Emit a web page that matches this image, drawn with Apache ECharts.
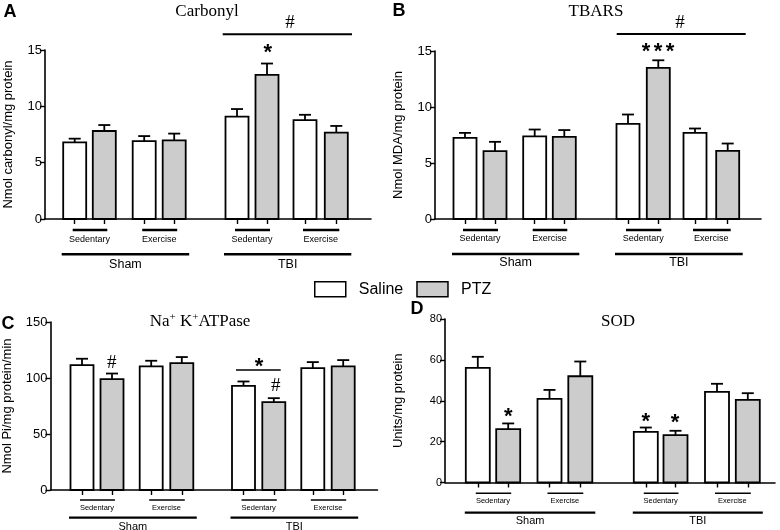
<!DOCTYPE html>
<html><head><meta charset="utf-8">
<script src="https://cdn.jsdelivr.net/npm/echarts@6/dist/echarts.min.js"></script>
<style>html,body{margin:0;padding:0;background:#fff}#c{width:780px;height:530px}</style>
</head><body><div id="c"></div>
<script>
// ---------------- DATA ----------------
const conditions = ['Sham Sedentary', 'Sham Exercise', 'TBI Sedentary', 'TBI Exercise'];
const groupLabels = ['Sham', 'TBI'];
const subgroupLabels = ['Sedentary', 'Exercise'];
const treatments = ['Saline', 'PTZ'];

const carbonylSaline    = [6.8, 6.92, 9.08, 8.78];
const carbonylSalineErr = [0.33, 0.44, 0.68, 0.47];
const carbonylPTZ       = [7.81, 6.98, 12.8, 7.66];
const carbonylPTZErr    = [0.53, 0.6, 1.0, 0.6];
const carbonylTicks     = [0, 5, 10, 15];

const tbarsSaline    = [7.25, 7.37, 8.5, 7.69];
const tbarsSalineErr = [0.44, 0.62, 0.83, 0.39];
const tbarsPTZ       = [6.06, 7.34, 13.49, 6.09];
const tbarsPTZErr    = [0.83, 0.6, 0.68, 0.65];
const tbarsTicks     = [0, 5, 10, 15];

const atpaseSaline    = [111.5, 110.3, 93.0, 108.8];
const atpaseSalineErr = [5.7, 5.1, 3.9, 5.4];
const atpasePTZ       = [99.0, 113.3, 78.4, 110.3];
const atpasePTZErr    = [5.0, 5.4, 3.6, 5.7];
const atpaseTicks     = [0, 50, 100, 150];

const sodSaline    = [56.1, 40.9, 24.8, 44.3];
const sodSalineErr = [5.4, 4.4, 2.1, 4.0];
const sodPTZ       = [26.1, 52.0, 23.2, 40.4];
const sodPTZErr    = [2.8, 7.2, 2.1, 3.3];
const sodTicks     = [0, 20, 40, 60, 80];

// ---------------- LAYOUT ----------------
const FONT = "'Liberation Sans', Arial, Helvetica, sans-serif";
const SERIF = "'Liberation Serif', 'Times New Roman', serif";
const FILL = { Saline: '#ffffff', PTZ: '#cccccc' };

const panels = [
  { letter: 'A', letterPos: [10, 12], title: 'Carbonyl', titlePos: [207, 12],
    yName: 'Nmol carbonyl/mg protein', nameGap: 30, tickFont: 13,
    saline: carbonylSaline, salineErr: carbonylSalineErr, ptz: carbonylPTZ, ptzErr: carbonylPTZErr, ticks: carbonylTicks,
    grid: { left: 45, top: 50, width: 326, height: 169 },
    pos: [29.7, 59.3, 99.2, 129.2, 192, 222, 260, 291.3], barW: 23,
    lab: { subLine: 11, subW: 2.5, subText: 21, subFont: 9, grpLine: 35.3, grpW: 2.5, grpText: 46, grpFont: 12.5 },
    notes: [
      { t: 'line', x1: 177.7, x2: 307, y: 16.39, w: 2 },
      { t: 'hash', x: 245, y: 17.39 },
      { t: 'star', x: 222.7, y: 15.17 }
    ] },
  { letter: 'B', letterPos: [399, 11], title: 'TBARS', titlePos: [596, 12],
    yName: 'Nmol MDA/mg protein', nameGap: 30, tickFont: 13,
    saline: tbarsSaline, salineErr: tbarsSalineErr, ptz: tbarsPTZ, ptzErr: tbarsPTZErr, ticks: tbarsTicks,
    grid: { left: 435, top: 51, width: 326, height: 168 },
    pos: [30, 60, 99.7, 129.3, 193, 223.3, 260, 292.7], barW: 23,
    lab: { subLine: 11, subW: 2.5, subText: 20, subFont: 9, grpLine: 35, grpW: 2.5, grpText: 44, grpFont: 12.5 },
    notes: [
      { t: 'line', x1: 181.7, x2: 310.7, y: 16.52, w: 2 },
      { t: 'hash', x: 245, y: 17.5 },
      { t: 'star', x: 211, y: 15.38 },
      { t: 'star', x: 223, y: 15.38 },
      { t: 'star', x: 235, y: 15.38 }
    ] },
  { letter: 'C', letterPos: [8, 324], title: 'Na{s|+} K{s|+}ATPase', titlePos: [200, 322],
    yName: 'Nmol Pi/mg protein/min', nameGap: 37, tickFont: 13,
    saline: atpaseSaline, salineErr: atpaseSalineErr, ptz: atpasePTZ, ptzErr: atpasePTZErr, ticks: atpaseTicks,
    grid: { left: 50.5, top: 322, width: 327, height: 168 },
    pos: [31.5, 61.5, 100.7, 131.3, 193, 223.3, 262.3, 292.7], barW: 23,
    lab: { subLine: 10, subW: 1.6, subText: 17.7, subFont: 7.5, grpLine: 27.7, grpW: 2.2, grpText: 36.5, grpFont: 11 },
    notes: [
      { t: 'hash', x: 61.2, y: 113.1 },
      { t: 'star', x: 208.5, y: 114.6 },
      { t: 'line', x1: 185.5, x2: 230.2, y: 107.1, w: 1.5 },
      { t: 'hash', x: 225.2, y: 92.9 }
    ] },
  { letter: 'D', letterPos: [417, 309], title: 'SOD', titlePos: [618, 322],
    yName: 'Units/mg protein', nameGap: 40, tickFont: 11,
    saline: sodSaline, salineErr: sodSalineErr, ptz: sodPTZ, ptzErr: sodPTZErr, ticks: sodTicks,
    grid: { left: 445, top: 319, width: 330, height: 163.5 },
    pos: [32.8, 63.2, 104.5, 135.3, 200.8, 230.5, 272, 302.8], barW: 24,
    lab: { subLine: 10.8, subW: 1.6, subText: 18.5, subFont: 7.5, grpLine: 30.2, grpW: 2.2, grpText: 38.5, grpFont: 11 },
    notes: [
      { t: 'star', x: 63.3, y: 34.6 },
      { t: 'star', x: 200.7, y: 32.2 },
      { t: 'star', x: 230, y: 31.4 }
    ] }
];

function barRenderer(fill, barW) {
  return function (params, api) {
    const x = api.value(0), v = api.value(1), e = api.value(2);
    const base = api.coord([x, 0]);
    const top = api.coord([x, v]);
    const etop = api.coord([x, v + e]);
    const line = { stroke: '#000', lineWidth: 1.8 };
    return { type: 'group', children: [
      { type: 'line', shape: { x1: top[0], y1: top[1], x2: etop[0], y2: etop[1] }, style: line },
      { type: 'line', shape: { x1: etop[0] - 6, y1: etop[1], x2: etop[0] + 6, y2: etop[1] }, style: line },
      { type: 'rect', shape: { x: base[0] - barW / 2, y: top[1], width: barW, height: base[1] - top[1] },
        style: { fill: fill, stroke: '#000', lineWidth: 1.8 } }
    ] };
  };
}

function labelRenderer(p) {
  return function (params, api) {
    const base = api.coord([0, 0])[1];
    const L = p.lab;
    const ch = [];
    for (let g = 0; g < 2; g++) {
      for (let s = 0; s < 2; s++) {
        const i = g * 4 + s * 2;
        const xl = api.coord([p.pos[i], 0])[0], xr = api.coord([p.pos[i + 1], 0])[0];
        ch.push({ type: 'line', shape: { x1: xl - 2, y1: base + L.subLine, x2: xr + 3, y2: base + L.subLine },
          style: { stroke: '#000', lineWidth: L.subW } });
        ch.push({ type: 'text', x: (xl + xr) / 2, y: base + L.subText,
          style: { text: subgroupLabels[s], fontSize: L.subFont, fontFamily: FONT, fill: '#000', align: 'center', verticalAlign: 'middle' } });
      }
      const gl = api.coord([p.pos[g * 4], 0])[0] - 13, gr = api.coord([p.pos[g * 4 + 3], 0])[0] + 15;
      ch.push({ type: 'line', shape: { x1: gl, y1: base + L.grpLine, x2: gr, y2: base + L.grpLine },
        style: { stroke: '#000', lineWidth: L.grpW } });
      ch.push({ type: 'text', x: (gl + gr) / 2, y: base + L.grpText,
        style: { text: groupLabels[g], fontSize: L.grpFont, fontFamily: FONT, fill: '#000', align: 'center', verticalAlign: 'middle' } });
    }
    return { type: 'group', children: ch };
  };
}

function noteRenderer(p) {
  return function (params, api) {
    const ch = [];
    p.notes.forEach(n => {
      if (n.t === 'line') {
        const a = api.coord([n.x1, n.y]), b = api.coord([n.x2, n.y]);
        ch.push({ type: 'line', shape: { x1: a[0], y1: a[1], x2: b[0], y2: b[1] }, style: { stroke: '#000', lineWidth: n.w } });
      } else if (n.t === 'star') {
        const c = api.coord([n.x, n.y]);
        ch.push({ type: 'text', x: c[0], y: c[1] + 5,
          style: { text: '*', fontSize: 22, fontWeight: 'bold', fontFamily: FONT, fill: '#000', align: 'center', verticalAlign: 'middle' } });
      } else {
        const c = api.coord([n.x, n.y]);
        ch.push({ type: 'text', x: c[0], y: c[1],
          style: { text: '#', fontSize: 19, fontFamily: SERIF, fill: '#000', align: 'center', verticalAlign: 'middle' } });
      }
    });
    return { type: 'group', children: ch };
  };
}

const grids = [], xAxes = [], yAxes = [], series = [], graphics = [];
panels.forEach((p, k) => {
  grids.push(Object.assign({ containLabel: false, outerBoundsMode: 'none' }, p.grid));
  xAxes.push({ type: 'value', gridIndex: k, min: 0, max: p.grid.width,
    axisLine: { show: true, onZero: false, lineStyle: { color: '#000', width: 1.6 } },
    axisTick: { show: true, customValues: p.pos, length: 5, lineStyle: { color: '#000', width: 1.4 } },
    axisLabel: { show: false }, splitLine: { show: false } });
  yAxes.push({ type: 'value', gridIndex: k, min: p.ticks[0], max: p.ticks[p.ticks.length - 1], interval: p.ticks[1] - p.ticks[0],
    name: p.yName, nameLocation: 'middle', nameGap: p.nameGap,
    nameTextStyle: { fontSize: 13, color: '#000', fontFamily: FONT },
    axisLine: { show: true, onZero: false, lineStyle: { color: '#000', width: 1.6 } },
    axisTick: { show: true, length: 5, lineStyle: { color: '#000', width: 1.4 } },
    axisLabel: { fontSize: p.tickFont, color: '#000', margin: 3, fontFamily: FONT },
    splitLine: { show: false } });
  treatments.forEach((t, ti) => {
    const vals = ti === 0 ? p.saline : p.ptz;
    const errs = ti === 0 ? p.salineErr : p.ptzErr;
    series.push({ type: 'custom', name: t, xAxisIndex: k, yAxisIndex: k, clip: false, silent: true, z: 3,
      itemStyle: { color: FILL[t], borderColor: '#000', borderWidth: 1.5 },
      encode: { x: 0, y: 1 },
      data: conditions.map((c, i) => [p.pos[i * 2 + ti], vals[i], errs[i]]),
      renderItem: barRenderer(FILL[t], p.barW) });
  });
  series.push({ type: 'custom', xAxisIndex: k, yAxisIndex: k, clip: false, silent: true, z: 2,
    data: [[0, 0]], encode: { x: 0, y: 1 }, renderItem: labelRenderer(p) });
  series.push({ type: 'custom', xAxisIndex: k, yAxisIndex: k, clip: false, silent: true, z: 4,
    data: [[0, 0]], encode: { x: 0, y: 1 }, renderItem: noteRenderer(p) });
  graphics.push({ type: 'text', x: p.letterPos[0], y: p.letterPos[1],
    style: { text: p.letter, fontSize: 18, fontWeight: 'bold', fontFamily: FONT, fill: '#000', align: 'center', verticalAlign: 'middle' } });
  graphics.push({ type: 'text', x: p.titlePos[0], y: p.titlePos[1],
    style: { text: p.title, fontSize: 17, fontFamily: SERIF, fill: '#000', align: 'center', verticalAlign: 'middle',
      rich: { s: { fontSize: 11, fontFamily: SERIF, fill: '#000', padding: [0, 0, 10, 0] } } } });
});

const chart = echarts.init(document.getElementById('c'), null, { renderer: 'canvas', width: 780, height: 530 });
chart.setOption({
  animation: false,
  backgroundColor: '#fff',
  textStyle: { fontFamily: FONT },
  grid: grids, xAxis: xAxes, yAxis: yAxes, series: series,
  graphic: graphics,
  legend: { left: 314, top: 281, padding: 0, itemWidth: 31, itemHeight: 15, itemGap: 13, icon: 'rect', selectedMode: false,
    textStyle: { fontSize: 16, color: '#000', fontFamily: FONT, padding: [0, 0, 0, 8] },
    data: [
      { name: 'Saline', itemStyle: { color: '#ffffff', borderColor: '#000', borderWidth: 1.5 } },
      { name: 'PTZ', itemStyle: { color: '#cccccc', borderColor: '#000', borderWidth: 1.5 } }
    ] }
});
</script></body></html>
